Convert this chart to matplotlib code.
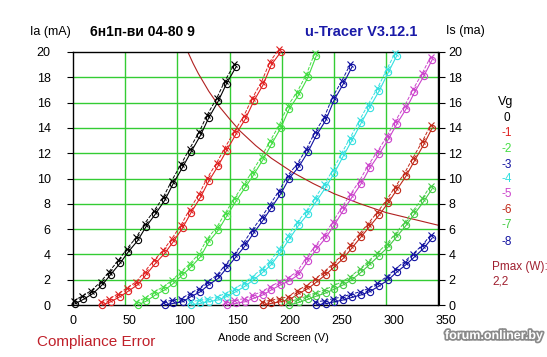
import matplotlib
matplotlib.use("Agg")
import matplotlib.pyplot as plt
import matplotlib.transforms as mtransforms
import matplotlib.patheffects as pe

# sweep voltages (anode = screen), V
volts = [2, 10, 19, 28, 36, 45, 53, 62, 70, 79, 88, 96, 105, 113, 122, 130,
         139, 147, 156, 165, 173, 182, 190, 199, 207, 216, 225, 233, 242, 250,
         259, 267, 276, 284, 293, 302, 310, 319, 327, 336, 344]

vg_labels = ['0', '-1', '-2', '-3', '-4', '-5', '-6', '-7', '-8']
vg_colors = ['#000000', '#e02020', '#44dd44', '#1010a0', '#33e0e0',
             '#cc44cc', '#c02818', '#44cc44', '#1010a0']
first_step = [0, 3, 7, 10, 13, 17, 21, 24, 27]

ia_0 = [0.1, 0.45, 0.9, 1.6, 2.4, 3.3, 4.2, 5.1, 6.2, 7.2, 8.3, 9.6, 10.9,
        12.1, 13.4, 14.8, 16.1, 17.5, 18.8]
ia_m1 = [0, 0.25, 0.66, 1.1, 1.6, 2.4, 3.3, 4.1, 5.0, 6.1, 7.3, 8.5, 9.8,
         11.0, 12.2, 13.5, 14.7, 16.1, 17.4, 19.0, 20.0]
ia_m2 = [0, 0.3, 0.8, 1.2, 1.7, 2.4, 3.0, 3.8, 5.0, 5.9, 7.0, 8.2, 9.3, 10.3,
         11.5, 12.7, 14.0, 15.5, 16.6, 18.0, 19.7]
ia_m3 = [0, 0.13, 0.26, 0.66, 1.05, 1.6, 2.1, 2.9, 3.8, 4.7, 5.7, 6.7, 7.7,
         8.8, 10.0, 10.9, 12.1, 13.4, 14.6, 16.2, 17.5, 18.8]
ia_m4 = [0, 0.13, 0.26, 0.4, 0.66, 1.05, 1.5, 2.0, 2.6, 3.2, 4.2, 5.2, 6.3,
         7.2, 8.2, 9.3, 10.4, 11.8, 13.0, 14.4, 15.6, 16.9, 18.4, 19.7]
ia_m5 = [0, 0.13, 0.26, 0.53, 0.8, 1.2, 1.6, 1.9, 2.4, 3.5, 4.4, 5.3, 6.3,
         7.5, 8.5, 9.6, 10.8, 11.9, 13.1, 14.3, 15.5, 16.8, 18.1, 19.4]
ia_m6 = [0, 0.13, 0.26, 0.4, 0.9, 1.3, 1.8, 2.4, 3.0, 3.7, 4.5, 5.4, 6.2, 7.1,
         8.1, 9.1, 10.2, 11.4, 12.7, 14.0]
ia_m7 = [0, 0.2, 0.45, 0.7, 0.95, 1.25, 1.6, 2.0, 2.6, 3.2, 3.9, 4.6, 5.4,
         6.3, 7.2, 8.2, 9.2]
ia_m8 = [0, 0.1, 0.25, 0.4, 0.6, 0.8, 1.05, 1.5, 2.0, 2.6, 3.2, 3.8, 4.5, 5.3]
currents = [ia_0, ia_m1, ia_m2, ia_m3, ia_m4, ia_m5, ia_m6, ia_m7, ia_m8]

# Pmax = 2,2 W curve
pmax_v = [110, 115, 120, 130, 140, 150, 160, 175, 190, 210, 230, 250, 275,
          300, 325, 350]
pmax_i = [20.0, 19.1, 18.3, 16.9, 15.7, 14.7, 13.75, 12.6, 11.6, 10.5, 9.6,
          8.8, 8.0, 7.3, 6.8, 6.3]

W, H = 547, 357
fig = plt.figure(figsize=(W / 100, H / 100), dpi=100)
plt.rcParams['font.family'] = ['Liberation Sans', 'DejaVu Sans']
ax = fig.add_axes([73 / W, 1 - 305 / H, 365.5 / W, 253 / H])

for x in range(50, 350, 50):
    ax.axvline(x, color='#33cc33', lw=1, zorder=1)
for y in range(2, 20, 2):
    ax.axhline(y, color='#33cc33', lw=1, zorder=1)

ax.plot(pmax_v, pmax_i, color='#b02020', lw=0.8, zorder=2)

# screen-current marks sit a touch above/left of the anode marks
shift = ax.transData + mtransforms.ScaledTranslation(-1.5 / 100, 3 / 100,
                                                     fig.dpi_scale_trans)
for vals, k0, col in zip(currents, first_step, vg_colors):
    vv = volts[k0:k0 + len(vals)]
    ax.plot(vv, vals, color=col, lw=0.8, marker='o', ms=4.5,
            mfc='none', mew=0.8, zorder=3, clip_on=False)
    ax.plot(vv, vals, color=col, lw=0.7, ls='--', marker='x', ms=4,
            mew=0.8, zorder=3, transform=shift, clip_on=False)

ax.set_xlim(0, 350)
ax.set_ylim(0, 20)
ax.set_xticks(range(0, 351, 50))
ax.set_yticks(range(0, 21, 2))
ax.tick_params(axis='x', length=0, pad=7, labelsize=9)
nudge = mtransforms.ScaledTranslation(-3 / 100, 0, fig.dpi_scale_trans)
for lab in ax.get_xticklabels():
    lab.set_horizontalalignment('left')
    lab.set_transform(lab.get_transform() + nudge)
ax.tick_params(axis='y', direction='out', length=4, width=0.8,
               labelsize=9, pad=12)
for sp in ax.spines.values():
    sp.set_color('black')
    sp.set_linewidth(1)

ax2 = ax.secondary_yaxis('right')
ax2.set_yticks(range(0, 21, 2))
ax2.tick_params(length=4, width=0.8, labelsize=9, pad=3)


def ftext(x, y, s, **kw):
    fig.text(x / W, 1 - y / H, s, va='center', **kw)


ftext(30, 32, 'Ia (mA)', fontsize=9)
ftext(90, 32, '6н1п-ви 04-80 9', fontsize=10, fontweight='bold')
ftext(305, 32, 'u-Tracer V3.12.1', fontsize=10.5, fontweight='bold',
      color='#1a1aa8')
ftext(446, 31, 'Is (ma)', fontsize=9)
ftext(218, 338, 'Anode and Screen (V)', fontsize=8)
ftext(37, 342, 'Compliance Error', fontsize=11, color='#c0202a')

ftext(506, 102, 'Vg', fontsize=9, ha='center')
legend_y = [118, 133, 149, 165, 179, 194, 210, 225, 242]
for lab, col, yy in zip(vg_labels, vg_colors, legend_y):
    ftext(507, yy, lab, fontsize=8.5, ha='center', color=col)
ftext(492, 267, 'Pmax (W):', fontsize=8.5, color='#a02030')
ftext(492, 282, '2,2', fontsize=8.5, color='#a02030')

fig.text(1 - 4 / W, 1 - 336 / H, 'forum.onliner.by', ha='right', va='center',
         fontsize=9, fontweight='bold', color='white',
         path_effects=[pe.withStroke(linewidth=2.5, foreground='#8a8a8a')])

fig.savefig('out.png', dpi=100)
